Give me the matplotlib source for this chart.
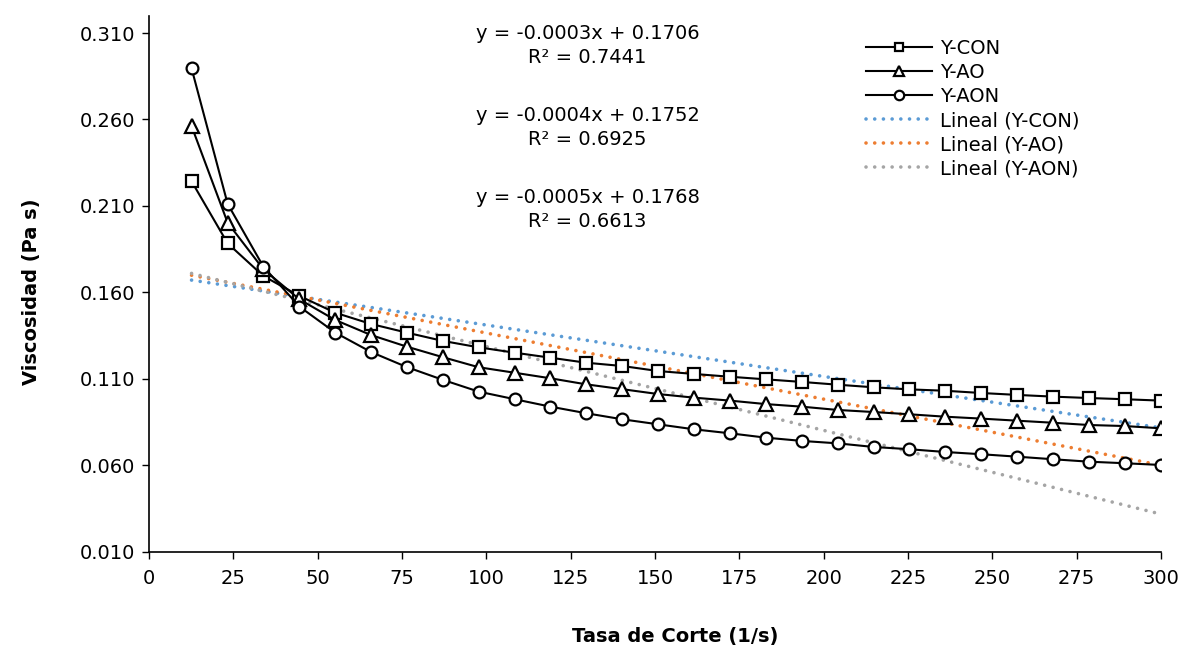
import numpy as np
import matplotlib.pyplot as plt

plt.rcParams['font.family'] = ['DejaVu Sans']

# shear rate (1/s)
shear_rate = [12.6, 23.3, 33.9, 44.6, 55.2, 65.8, 76.4, 87.1, 97.7, 108.4,
              119.0, 129.6, 140.3, 150.9, 161.6, 172.2, 182.8, 193.5, 204.1, 214.8,
              225.4, 236.0, 246.7, 257.3, 268.0, 278.6, 289.2, 299.9]

# viscosity (Pa s)
y_con = [0.2243, 0.1884, 0.1695, 0.1580, 0.1483, 0.1418, 0.1368, 0.1320, 0.1283, 0.1252,
         0.1223, 0.1194, 0.1175, 0.1146, 0.1129, 0.1113, 0.1098, 0.1083, 0.1067, 0.1052,
         0.1040, 0.1032, 0.1019, 0.1008, 0.0998, 0.0990, 0.0983, 0.0975]
y_ao = [0.2562, 0.2003, 0.1734, 0.1560, 0.1441, 0.1354, 0.1287, 0.1226, 0.1168, 0.1136,
        0.1104, 0.1069, 0.1041, 0.1013, 0.0992, 0.0975, 0.0955, 0.0940, 0.0921, 0.0909,
        0.0896, 0.0882, 0.0871, 0.0859, 0.0847, 0.0834, 0.0828, 0.0815]
y_aon = [0.2896, 0.2112, 0.1749, 0.1518, 0.1368, 0.1256, 0.1169, 0.1095, 0.1027, 0.0983,
         0.0940, 0.0902, 0.0867, 0.0838, 0.0809, 0.0786, 0.0761, 0.0742, 0.0728, 0.0707,
         0.0694, 0.0678, 0.0665, 0.0651, 0.0636, 0.0622, 0.0613, 0.0603]

series = [('Y-CON', y_con, 's', 8), ('Y-AO', y_ao, '^', 9.5), ('Y-AON', y_aon, 'o', 8.5)]
trend_colors = ['#5B9BD5', '#ED7D31', '#A5A5A5']
equations = ['y = -0.0003x + 0.1706\nR² = 0.7441',
             'y = -0.0004x + 0.1752\nR² = 0.6925',
             'y = -0.0005x + 0.1768\nR² = 0.6613']

FS = 14

fig = plt.figure(figsize=(11.83, 6.49), dpi=100)
ax = fig.add_axes([0.126, 0.1495, 0.8554, 0.8263])

x = np.array(shear_rate)
for name, vals, mk, ms in series:
    ax.plot(x, vals, color='black', lw=1.5, marker=mk, markersize=ms,
            markerfacecolor='white', markeredgecolor='black', markeredgewidth=1.6,
            label=name, zorder=3)

# linear trendlines (Excel style)
for (name, vals, mk, ms), col in zip(series, trend_colors):
    slope, icpt = np.polyfit(x, vals, 1)
    ax.plot(x, slope * x + icpt, color=col, lw=2.6, linestyle=(0, (0.01, 2.4)),
            dash_capstyle='round', label='Lineal (%s)' % name, zorder=2)

eq_y = [0.3028, 0.2554, 0.2080]
for txt, yy in zip(equations, eq_y):
    ax.text(130.0, yy, txt, ha='center', va='center', multialignment='center',
            fontsize=FS, linespacing=1.28)

ax.set_xlim(0, 300)
ax.set_ylim(0.010, 0.320)
ax.set_xticks(np.arange(0, 301, 25))
ax.set_yticks(np.arange(0.010, 0.311, 0.05))
ax.set_yticklabels(['%.3f' % v for v in np.arange(0.010, 0.311, 0.05)])
ax.tick_params(labelsize=FS, length=5, width=1, direction='out')
ax.tick_params(axis='x', pad=7)
ax.tick_params(axis='y', pad=5)
ax.spines['top'].set_visible(False)
ax.spines['right'].set_visible(False)
ax.spines['left'].set_linewidth(1.2)
ax.spines['bottom'].set_linewidth(1.2)

ax.set_xlabel('Tasa de Corte (1/s)', fontsize=FS, fontweight='bold')
ax.set_ylabel('Viscosidad (Pa s)', fontsize=FS, fontweight='bold')
ax.xaxis.set_label_coords(0.52, -0.14)
ax.yaxis.set_label_coords(-0.107, 0.485)

ax.legend(loc='upper left', bbox_to_anchor=(866 / 1183, 1 - 39 / 649),
          bbox_transform=fig.transFigure, frameon=False, fontsize=FS,
          handlelength=3.4, handletextpad=0.4, labelspacing=0.26,
          borderaxespad=0, borderpad=0, markerscale=0.8)

fig.savefig('out.png', dpi=100)
